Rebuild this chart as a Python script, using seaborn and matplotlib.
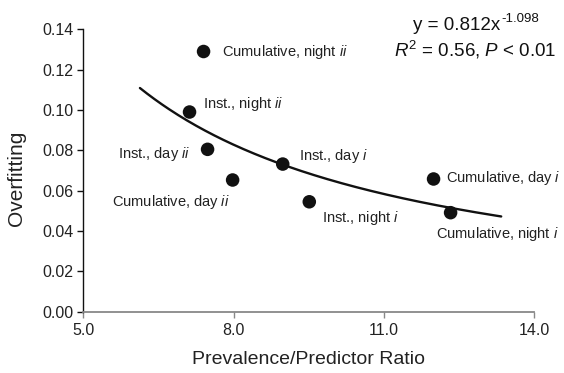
import numpy as np
import pandas as pd
import matplotlib
matplotlib.use("Agg")
import matplotlib.pyplot as plt
import seaborn as sns

# ---- data ----
labels = [r"Cumulative, night $\mathit{ii}$", r"Inst., night $\mathit{ii}$",
          r"Inst., day $\mathit{ii}$", r"Cumulative, day $\mathit{ii}$",
          r"Inst., day $\mathit{i}$", r"Inst., night $\mathit{i}$",
          r"Cumulative, day $\mathit{i}$", r"Cumulative, night $\mathit{i}$"]
ratio = [7.40, 7.12, 7.48, 7.98, 8.98, 9.51, 11.99, 12.33]
overfit = [0.129, 0.099, 0.0805, 0.0653, 0.0732, 0.0545, 0.0658, 0.0491]
# fitted power trend (coefficients shown in chart)
fit_a = 0.812
fit_b = -1.098
fit_range = [6.13, 13.34]
xticks = [5.0, 8.0, 11.0, 14.0]
yticks = [0.00, 0.02, 0.04, 0.06, 0.08, 0.10, 0.12, 0.14]

sns.set_style("white")
plt.rcParams["font.family"] = ["Liberation Sans", "DejaVu Sans"]
plt.rcParams["mathtext.fontset"] = "custom"
plt.rcParams["mathtext.rm"] = "Liberation Sans"
plt.rcParams["mathtext.it"] = "Liberation Sans:italic"
plt.rcParams["mathtext.bf"] = "Liberation Sans:bold"

df = pd.DataFrame({"ratio": ratio, "overfit": overfit, "label": labels})
fx = np.linspace(fit_range[0], fit_range[1], 200)
fit_df = pd.DataFrame({"x": fx, "y": fit_a * fx ** fit_b})

fig = plt.figure(figsize=(5.64, 3.73), dpi=100)
ax = fig.add_axes([0.1477, 0.1643, 0.7996, 0.7571])

sns.lineplot(data=fit_df, x="x", y="y", ax=ax, color="#111111", lw=1.7)
sns.scatterplot(data=df, x="ratio", y="overfit", ax=ax, color="#111111",
                s=95, edgecolor="none", zorder=3)

ax.set_xlim(5.0, 14.0)
ax.set_ylim(0.0, 0.14)
ax.set_xticks(xticks)
ax.set_xticklabels([f"{v:.1f}" for v in xticks])
ax.set_yticks(yticks)
ax.set_yticklabels([f"{v:.2f}" for v in yticks])

for s in ["top", "right"]:
    ax.spines[s].set_visible(False)
ax.spines["left"].set_color("#111111")
ax.spines["left"].set_linewidth(1.0)
ax.spines["bottom"].set_color("#888888")
ax.spines["bottom"].set_linewidth(1.3)
ax.tick_params(axis="y", which="both", left=True, length=4, width=1,
               color="#111111", labelsize=11.5, pad=3, labelcolor="#222222")
ax.tick_params(axis="x", which="both", bottom=True, length=4, width=1,
               color="#888888", labelsize=11.5, pad=4, labelcolor="#222222")

ax.set_xlabel("")
ax.set_ylabel("")
fig.text(309 / 564, 1 - 359 / 373, "Prevalence/Predictor Ratio", ha="center",
         va="center", fontsize=14, color="#222222")
fig.text(16.7 / 564, 1 - 178 / 373, "Overfitting", ha="center", va="center",
         rotation=90, fontsize=15, color="#222222")

# label placements (offsets in points) relative to each point
offsets = [(13, 0, "left"), (10, 6, "left"),
           (-12.5, -3, "right"), (-2, -16, "right"),
           (11.4, 6, "left"), (9, -12, "left"),
           (9, 1, "left"), (-10.3, -15.3, "left")]
for (lab, xv, yv), (dx, dy, ha) in zip(zip(labels, ratio, overfit), offsets):
    ax.annotate(lab, (xv, yv), xytext=(dx, dy), textcoords="offset points",
                ha=ha, va="center", fontsize=10.5, color="#222222",
                annotation_clip=False)

t1 = fig.text(413 / 564, 1 - 30 / 373, f"y = {fit_a}x", ha="left",
              va="baseline", fontsize=13.5, color="#111111")
fig.text(0, 0, "")
ax.annotate(f"{fit_b}", xy=(1.0, 0.55), xycoords=t1, xytext=(0.5, 0),
            textcoords="offset points", ha="left", va="bottom",
            fontsize=9.5, color="#111111", annotation_clip=False)
fig.text(475 / 564, 1 - 56.5 / 373, r"$R^{2}$ = 0.56, $P$ < 0.01", ha="center",
         va="baseline", fontsize=13.5, color="#111111")

fig.savefig("out.png", dpi=100)
